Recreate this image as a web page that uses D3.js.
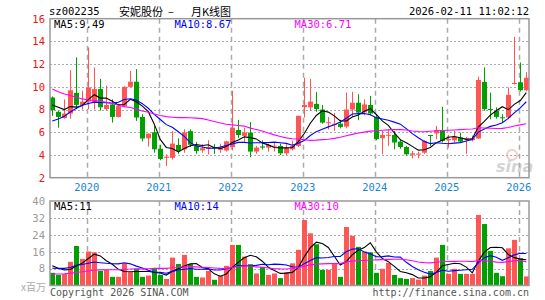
<!DOCTYPE html>
<html><head><meta charset="utf-8">
<script src="https://cdn.jsdelivr.net/npm/d3@7/dist/d3.min.js"></script>
<style>
html,body{margin:0;padding:0;background:#fff;}
svg{display:block;}
text{font-family:"DejaVu Sans Mono",monospace;}
</style></head>
<body><svg id="c" width="545" height="300"></svg>
<script>
// ---------- DATA ----------
const months = [
 "2019-07","2019-08","2019-09","2019-10","2019-11","2019-12",
 "2020-01","2020-02","2020-03","2020-04","2020-05","2020-06","2020-07","2020-08","2020-09","2020-10","2020-11","2020-12",
 "2021-01","2021-02","2021-03","2021-04","2021-05","2021-06","2021-07","2021-08","2021-09","2021-10","2021-11","2021-12",
 "2022-01","2022-02","2022-03","2022-04","2022-05","2022-06","2022-07","2022-08","2022-09","2022-10","2022-11","2022-12",
 "2023-01","2023-02","2023-03","2023-04","2023-05","2023-06","2023-07","2023-08","2023-09","2023-10","2023-11","2023-12",
 "2024-01","2024-02","2024-03","2024-04","2024-05","2024-06","2024-07","2024-08","2024-09","2024-10","2024-11","2024-12",
 "2025-01","2025-02","2025-03","2025-04","2025-05","2025-06","2025-07","2025-08","2025-09","2025-10","2025-11","2025-12",
 "2026-01","2026-02"];
const openP  = [9.06,7.8,7.25,7.65,9.47,8.4,8.7,8.6,9.8,8.05,8.45,7.35,8.3,10.0,10.45,7.35,5.47,6.0,4.55,3.75,
 3.75,4.88,4.5,6.1,4.8,4.4,4.55,4.7,4.45,4.4,4.7,6.2,5.68,5.97,4.3,4.75,4.65,4.75,4.8,4.15,
 4.5,4.8,8.2,8.2,8.5,8.0,6.8,6.65,6.76,6.5,8.0,8.6,7.75,8.4,7.35,5.47,5.7,5.76,5.18,4.7,
 4.02,4.05,4.2,5.76,5.9,6.18,5.3,5.3,5.53,5.38,5.3,5.45,10.44,8.05,7.88,7.32,7.3,10.25,10.4,9.7];
const highP  = [9.15,7.88,8.9,11.47,12.6,9.65,13.47,11.7,10.7,10.1,8.9,8.5,10.05,11.4,11.56,7.6,5.9,6.56,4.9,4.06,
 6.1,5.47,6.26,6.26,5.15,4.95,5.3,4.95,5.0,5.25,9.65,7.1,6.4,6.9,4.8,5.3,5.0,5.05,5.0,4.95,
 5.25,7.45,10.8,10.7,9.56,8.4,7.35,7.7,7.1,9.5,9.56,9.35,8.9,9.2,7.6,6.12,6.24,6.12,5.4,4.8,
 4.35,4.3,5.3,5.76,6.56,8.24,5.76,6.12,5.97,5.6,5.7,10.9,11.7,9.5,8.2,7.6,9.94,14.4,12.15,11.3];
const lowP   = [7.44,6.4,7.2,7.2,8.03,8.0,8.03,8.0,7.9,7.94,6.85,7.3,8.2,9.95,7.0,5.2,4.74,4.2,3.53,3.03,
 3.6,4.1,4.2,4.7,4.1,4.2,4.05,4.1,4.2,4.3,4.4,5.5,5.1,3.8,4.1,4.5,4.3,4.3,4.0,4.0,
 4.4,4.7,7.3,7.88,7.8,6.75,6.24,6.12,6.35,6.35,7.35,7.06,7.5,7.5,5.3,4.06,4.8,4.5,4.55,3.95,
 3.7,3.7,4.1,4.8,5.38,5.1,4.65,5.1,5.1,4.1,5.2,5.4,7.9,7.15,7.2,6.85,7.15,10.2,9.6,9.6];
const closeP = [7.94,7.35,7.65,9.7,8.41,8.7,9.94,9.8,8.2,8.4,7.35,8.3,10.0,10.45,7.3,5.45,5.88,4.5,3.65,3.85,
 5.0,4.35,5.97,4.9,4.35,4.6,4.7,4.6,4.65,5.2,6.4,5.76,5.97,4.3,4.65,4.65,4.88,4.82,4.15,4.65,
 4.8,7.45,8.4,8.7,8.05,6.85,6.88,6.75,6.47,8.0,8.6,7.73,8.45,7.65,5.4,5.76,5.78,5.1,4.7,4.06,
 4.15,4.12,5.24,5.72,6.2,5.24,5.4,5.6,5.18,5.47,5.47,10.6,8.03,8.0,7.35,7.28,9.3,10.35,9.7,10.8];
// volume, millions of shares
const volume = [6.0,5.0,5.4,11.2,18.7,12.6,16.1,15.7,6.9,7.4,4.1,4.1,10.6,6.3,7.9,4.1,4.7,7.9,5.0,3.1,
 13.2,10.2,14.5,10.1,4.1,3.8,6.9,2.7,4.6,9.3,19.2,19.2,13.7,10.1,5.7,8.8,5.0,5.7,3.5,6.3,
 10.5,16.9,31.0,24.7,19.5,7.4,7.4,10.1,4.1,27.7,23.5,18.3,16.1,15.7,6.0,7.9,10.7,5.0,3.5,3.1,
 3.5,2.8,4.7,6.9,13.2,19.2,5.5,7.9,5.5,5.5,5.5,33.4,29.1,16.4,6.0,4.4,17.6,21.6,12.9,4.3];
// months before the visible window (only feed the moving averages at the left edge)
const priorClose = [14.2,13.8,13.4,13.0,13.3,12.6,11.2,10.6,10.9,10.4,13.2,13.5,12.9,11.4,10.2,9.5,9.0,7.6,6.8,6.5,
 5.6,5.4,5.8,5.2,6.0,8.35,8.65,8.4,8.66];
const priorVolume = [3.5,4.2,3.0,5.1,4.5,3.8,3.2,4.6,5.5,4.0,3.6,3.3,4.4,3.9,4.8,3.7,3.1,4.3,3.5,4.0,
 6.0,5.5,7.0,8.0,9.0,10.5,9.5,10.2,10.3];
const yearTicks = ["2020","2021","2022","2023","2024","2025","2026"];
const priceTicks = [2,4,6,8,10,12,14,16];
const volTicks = [8,16,24,32,40];
const header = {code:"sz002235", name:"安妮股份", dash:"–", kind:"月K线图", time:"2026-02-11 11:02:12"};
const priceLegend = ["MA5:9.49","MA10:8.67","MA30:6.71"];
const volLegend = ["MA5:11","MA10:14","MA30:10"];

// ---------- DRAW ----------
const svg = d3.select("#c");
const L = 50, R = 529;
const RED = "#ff5555", GREEN = "#00a000", GRID = "#aaaaaa", FRAME = "#999999";
const maColors = ["#000000","#0000ff","#ff00ff"];
const x = d3.scaleBand().domain(months).range([L - 0.7, R + 0.3]).padding(0);
const cx = m => x(m) + x.bandwidth()/2;
const yP = d3.scaleLinear().domain([2,16]).range([177.7,18.7]);
const yV = d3.scaleLinear().domain([0,40]).range([285.5,201]);

const rows = months.map((m,i)=>({m, o:openP[i], h:highP[i], l:lowP[i], c:closeP[i], v:volume[i]}));
function ma(vals, prior, n){
  const all = prior.concat(vals);
  return vals.map((_,i)=>{ const e = i + prior.length; return d3.mean(all.slice(e-n+1, e+1)); });
}

function panel(top, bottom, yScale, ticks, gridTicks, labelColor, fmt){
  const g = svg.append("g");
  g.selectAll("line.h").data(gridTicks).join("line")
    .attr("x1",L).attr("x2",R)
    .attr("y1",d=>Math.round(yScale(d))+0.5).attr("y2",d=>Math.round(yScale(d))+0.5)
    .attr("stroke",GRID).attr("stroke-dasharray","2,2");
  g.selectAll("line.v").data(yearTicks).join("line")
    .attr("x1",d=>Math.round(cx(d+"-01")-1.5)+0.5).attr("x2",d=>Math.round(cx(d+"-01")-1.5)+0.5)
    .attr("y1",top).attr("y2",bottom)
    .attr("stroke","#aaaaaa").attr("stroke-width",1.5).attr("stroke-dasharray","5,4");
  const ax = d3.axisLeft(yScale).tickValues(ticks).tickSize(0).tickPadding(4).tickFormat(fmt);
  const ag = svg.append("g").attr("transform",`translate(${L-1},0)`).call(ax);
  ag.select(".domain").remove();
  ag.selectAll("text").attr("fill",labelColor).style("font-family","DejaVu Sans Mono, monospace").style("font-size","10.5px");
  return g;
}

panel(18.7,177.7,yP,priceTicks,[4,6,8,10,12,14],"#ee1111",d3.format("d"));
panel(201,285.5,yV,volTicks,[8,16,24,32],"#999999",d3.format("d"));

// watermark
const wm = svg.append("g").attr("opacity",0.55);
wm.append("circle").attr("cx",512).attr("cy",155).attr("r",5).attr("fill","none").attr("stroke","#f0a0a0").attr("stroke-width",2);
wm.append("text").attr("x",496).attr("y",172).text("sina")
  .attr("fill","#b0b0b0").style("font-family","DejaVu Sans, sans-serif").style("font-size","16px").style("font-style","italic").style("font-weight","bold");

// candles
const cg = svg.append("g");
const col = d => d.c >= d.o ? RED : GREEN;
cg.selectAll("line.w").data(rows).join("line")
  .attr("x1",d=>Math.round(cx(d.m))+0.5).attr("x2",d=>Math.round(cx(d.m))+0.5)
  .attr("y1",d=>yP(d.h)).attr("y2",d=>yP(d.l)).attr("stroke",col);
cg.selectAll("rect").data(rows).join("rect")
  .attr("x",d=>Math.round(cx(d.m))-2).attr("width",5)
  .attr("y",d=>yP(Math.max(d.o,d.c)))
  .attr("height",d=>Math.max(1, yP(Math.min(d.o,d.c)) - yP(Math.max(d.o,d.c))))
  .attr("fill",col);

// volume bars
const vg = svg.append("g");
vg.selectAll("rect").data(rows).join("rect")
  .attr("x",d=>Math.round(cx(d.m))-2).attr("width",5)
  .attr("y",d=>yV(d.v)).attr("height",d=>yV(0)-yV(d.v)).attr("fill",col);

// moving averages
function maLines(vals, prior, yScale){
  [5,10,30].forEach((n,k)=>{
    const s = ma(vals, prior, n);
    svg.append("path").datum(s)
      .attr("d", d3.line().x((d,i)=>cx(months[i])).y(d=>yScale(d)))
      .attr("fill","none").attr("stroke",maColors[k]).attr("stroke-width",1.1);
  });
}
maLines(closeP, priorClose, yP);
maLines(volume, priorVolume, yV);

// frames
svg.append("rect").attr("x",L).attr("y",18.7).attr("width",R-L).attr("height",177.7-18.7)
  .attr("fill","none").attr("stroke",FRAME).attr("stroke-width",1.5);
svg.append("rect").attr("x",L).attr("y",201).attr("width",R-L).attr("height",285.5-201)
  .attr("fill","none").attr("stroke",FRAME).attr("stroke-width",1.5);

// year labels
svg.append("g").selectAll("text").data(yearTicks).join("text")
  .attr("x",d=>cx(d+"-01")-1.5).attr("y",190.5).attr("text-anchor","middle")
  .attr("fill","#1a86d0").style("font-size","10.5px").text(d=>d);

// legends
const legX = [54,174.5,294.5];
svg.append("g").selectAll("text").data(priceLegend).join("text")
  .attr("x",(d,i)=>legX[i]).attr("y",28).attr("fill",(d,i)=>maColors[i]).style("font-size","10.5px").text(d=>d);
svg.append("g").selectAll("text").data(volLegend).join("text")
  .attr("x",(d,i)=>legX[i]).attr("y",210).attr("fill",(d,i)=>maColors[i]).style("font-size","10.5px").text(d=>d);

// header
svg.append("text").attr("x",49).attr("y",15).style("font-size","10.5px").attr("fill","#000").text(header.code);
const cjk = "Noto Sans CJK SC, sans-serif";
svg.append("text").attr("x",119).attr("y",15.5).style("font-family",cjk).style("font-size","11px").attr("fill","#000").text(header.name);
svg.append("text").attr("x",168).attr("y",15.5).style("font-family",cjk).style("font-size","11px").attr("fill","#000").text(header.dash);
svg.append("text").attr("x",191).attr("y",15.5).style("font-family",cjk).style("font-size","11px").attr("fill","#000").text(header.kind);
svg.append("text").attr("x",R).attr("y",15).attr("text-anchor","end").style("font-size","10.5px").attr("fill","#000").text(header.time);

// footer
svg.append("text").attr("x",46).attr("y",291).attr("text-anchor","end").attr("fill","#aaaaaa")
  .style("font-family",cjk).style("font-size","10px").text("x百万");
svg.append("text").attr("x",50).attr("y",295.5).attr("fill","#555").style("font-size","10px").text("Copyright 2026 SINA.COM");
svg.append("text").attr("x",R).attr("y",295.5).attr("text-anchor","end").attr("fill","#555").style("font-size","10px").text("http://finance.sina.com.cn");
</script></body></html>
